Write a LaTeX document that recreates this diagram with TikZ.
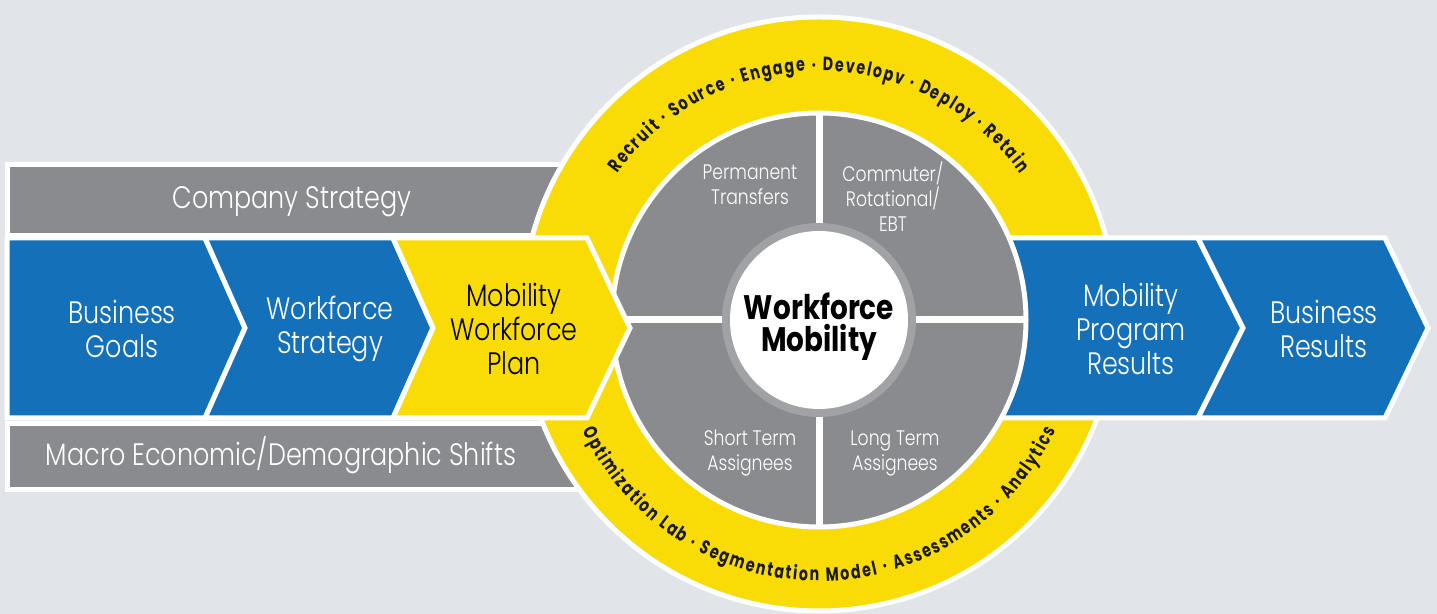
\documentclass[tikz,border=0pt]{standalone}
\usepackage{fontspec}
\setmainfont{Poppins}[FakeStretch=0.82, UprightFont=* Light, BoldFont=* Bold]
\newfontfamily\ringfamily{Poppins}[FakeStretch=0.74]
\usetikzlibrary{decorations.text}

\definecolor{bgray}{HTML}{E1E4E9}
\definecolor{wfblue}{HTML}{1470B9}
\definecolor{wfyellow}{HTML}{F9DC06}
\definecolor{wfgray}{HTML}{898B8E}
\definecolor{rimgray}{HTML}{A0A2A5}
\definecolor{inkblack}{HTML}{1A1A1A}

\newcommand{\ringlettering}{\ringfamily\bfseries\fontsize{9.6}{9.6}\selectfont}

\begin{document}
\begin{tikzpicture}[x=0.5pt, y=0.5pt,
    bar/.style={fill=wfgray, draw=white, line width=2.5pt},
    chev/.style={fill=#1, draw=white, line width=2.5pt, line join=miter},
    disc/.style={fill=#1, draw=white, line width=2.5pt},
    label/.style={text=white, font=\fontsize{15.5}{17}\selectfont, align=center},
    darklabel/.style={label, text=black},
    quad/.style={text=white, font=\fontsize{10.5}{12.5}\selectfont, align=center},
    ringtext/.style={decorate, decoration={text along path, text align={fit to path},
        text color=inkblack, text={|\ringlettering|#1}}}]

    \useasboundingbox[fill=bgray] (0,0) rectangle (1437,614);
    \coordinate (hub) at (819,294);
    \coordinate (ringhub) at (819,300);

    % side bars, partly hidden under the ring
    \draw[bar] (7,378) rectangle (640,449);
    \draw[bar] (7,124) rectangle (640,190);
    \node[label] (company) at (292,412) {Company Strategy};
    \node[label] (macro) at (281,159) {Macro Economic/Demographic Shifts};

    % yellow ring with its lettering
    \draw[disc=wfyellow] (ringhub) circle[radius=297];
    \path[ringtext={Recruit · Source · Engage · Developv · Deploy · Retain}]
        (hub) ++(144:249) arc[start angle=144, end angle=36, radius=249];
    \path[ringtext={Optimization Lab · Segmentation Model · Assessments · Analytics}]
        (hub) ++(205:261) arc[start angle=205, end angle=335, radius=261];

    % results on the right
    \draw[chev=wfblue] (960,376) -- (1198,376) -- (1243,286) -- (1198,196) -- (960,196) -- cycle;
    \draw[chev=wfblue] (1198,376) -- (1385,376) -- (1428,286) -- (1385,196) -- (1198,196) -- (1243,286) -- cycle;
    \node[label] (progres) at (1131,285) {Mobility\\Program\\Results};
    \node[label] (busres) at (1324,285) {Business\\Results};

    % the four mobility types
    \draw[disc=wfgray] (hub) circle[radius=207];
    \draw[white, line width=3.5pt] (hub) ++(0,207) -- ++(0,-414);
    \draw[white, line width=3.5pt] (hub) ++(-207,0) -- ++(414,0);
    \fill[rimgray] (hub) circle[radius=97];
    \fill[white] (hub) circle[radius=89];
    \node[quad] (perm) at (750,429) {Permanent\\Transfers};
    \node[quad] (commute) at (893,417) {Commuter/\\Rotational/\\EBT};
    \node[quad] (short) at (750,161) {Short Term\\Assignees};
    \node[quad] (long) at (895,161) {Long Term\\Assignees};
    \node[font=\bfseries\fontsize{17}{16}\selectfont, align=center] (core) at (819,287) {Workforce\\Mobility};

    % planning chain on the left
    \draw[chev=wfblue] (7,376) -- (205,376) -- (245,286) -- (205,196) -- (7,196) -- cycle;
    \draw[chev=wfblue] (205,376) -- (393,376) -- (433,286) -- (393,196) -- (205,196) -- (245,286) -- cycle;
    \draw[chev=wfyellow] (393,376) -- (587,376) -- (630,286) -- (587,196) -- (393,196) -- (433,286) -- cycle;
    \node[label] (goals) at (122,285) {Business\\Goals};
    \node[label] (wfstrat) at (330,285) {Workforce\\Strategy};
    \node[darklabel] (plan) at (514,285) {Mobility\\Workforce\\Plan};
\end{tikzpicture}
\end{document}
